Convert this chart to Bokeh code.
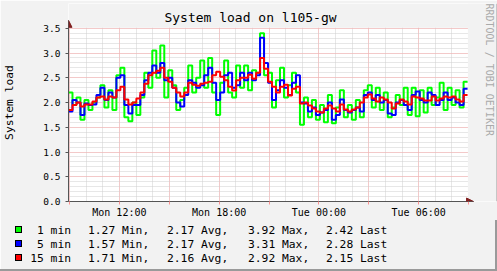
import math
from bokeh.plotting import figure
from bokeh.layouts import column
from bokeh.models import Range1d, FixedTicker, Label, BoxAnnotation, Arrow, NormalHead, Div
from bokeh.embed import file_html
from bokeh.resources import INLINE

# ---------------- data ----------------
title_text = "System load on l105-gw"
y_label_text = "System load"
watermark_text = "RRDTOOL / TOBI OETIKER"

start_hour = 8.94      # hours since Mon 00:00 at the left edge
step_hours = 0.24      # one sample per step

load_1min = [2.2, 1.95, 2.1, 1.65, 2.05, 1.85, 2.0, 2.1, 2.35, 1.9,
             2.25, 1.85, 2.55, 2.7, 1.7, 1.62, 2.0, 1.75, 2.1, 2.6,
             2.3, 3.05, 2.5, 3.15, 2.1, 2.65, 2.35, 1.85, 2.05, 2.3,
             2.75, 2.2, 2.5, 2.85, 2.3, 2.9, 2.2, 1.75, 2.4, 2.85,
             2.2, 2.1, 2.75, 2.3, 2.75, 2.25, 2.65, 2.6, 3.4, 2.55,
             2.6, 1.9, 2.45, 2.7, 2.1, 2.35, 2.6, 2.2, 1.55, 2.1,
             1.7, 2.05, 1.65, 1.95, 1.6, 2.15, 1.58, 1.9, 2.25, 1.7,
             1.95, 1.65, 2.05, 1.7, 2.25, 2.35, 1.9, 2.3, 1.85, 2.2,
             1.7, 1.9, 2.15, 1.95, 2.3, 1.75, 2.3, 1.72, 2.25, 1.8,
             2.3, 1.95, 2.1, 2.4, 1.85, 2.3, 1.95, 2.25, 1.9, 2.42]

load_5min = [1.82, 2.05, 2.0, 1.75, 1.98, 1.95, 1.96, 2.15, 2.3, 2.05,
             2.2, 2.1, 2.5, 2.55, 1.95, 1.78, 1.95, 1.95, 2.15, 2.45,
             2.6, 2.75, 2.6, 2.8, 2.45, 2.5, 2.3, 2.0, 1.92, 2.15,
             2.45, 2.4, 2.3, 2.35, 2.55, 2.7, 2.4, 2.05, 2.2, 2.55,
             2.6, 2.3, 2.35, 2.6, 2.45, 2.6, 2.45, 2.55, 3.31, 2.8,
             2.4, 2.05, 2.25, 2.45, 2.3, 2.15, 2.4, 2.55, 2.0, 1.98,
             1.82, 1.9, 1.75, 1.8, 1.85, 2.0, 1.65, 1.75, 2.06, 1.85,
             1.8, 1.85, 1.9, 1.82, 2.15, 2.2, 2.05, 2.15, 2.0, 2.05,
             1.78, 1.75, 2.0, 2.05, 1.95, 1.85, 2.15, 2.22, 2.05, 2.0,
             2.2, 2.15, 1.95, 2.05, 2.2, 2.05, 2.1, 2.0, 1.95, 2.28]

load_15min = [1.85, 1.95, 2.0, 1.92, 1.96, 1.96, 2.02, 2.1, 2.12, 2.06,
              2.12, 2.1, 2.25, 2.32, 2.06, 1.96, 2.0, 2.08, 2.2, 2.38,
              2.55, 2.6, 2.64, 2.7, 2.5, 2.42, 2.3, 2.2, 2.12, 2.2,
              2.4, 2.36, 2.34, 2.38, 2.4, 2.42, 2.55, 2.62, 2.52, 2.45,
              2.32, 2.24, 2.45, 2.5, 2.5, 2.56, 2.48, 2.6, 2.9, 2.68,
              2.42, 2.32, 2.2, 2.32, 2.36, 2.14, 2.28, 2.32, 1.98, 2.0,
              1.94, 1.88, 1.82, 1.8, 1.88, 1.94, 1.88, 1.82, 1.96, 1.86,
              1.82, 1.86, 1.9, 2.0, 2.1, 2.16, 2.08, 2.02, 2.1, 2.06,
              2.0, 1.88, 1.98, 2.06, 2.02, 1.96, 2.12, 2.1, 2.08, 2.04,
              2.04, 2.12, 2.04, 2.08, 2.12, 2.1, 2.12, 2.06, 2.02, 2.15]

series_names = ["1 min", "5 min", "15 min"]
series_colors = ["#00ff00", "#0000ff", "#ff0000"]
stat_min = [1.27, 1.57, 1.71]
stat_avg = [2.17, 2.17, 2.16]
stat_max = [3.92, 3.31, 2.92]
stat_last = [2.42, 2.28, 2.15]

tick_hours = [12, 18, 24, 30]
tick_labels = ["Mon 12:00", "Mon 18:00", "Tue 00:00", "Tue 06:00"]
y_ticks = [0.0, 0.5, 1.0, 1.5, 2.0, 2.5, 3.0, 3.5]
y_max = 3.5

# ---------------- layout constants ----------------
W = 497
H_MAIN, H_LEG = 220, 51
FL, FT, FB = 67, 3, 17            # frame borders of the main figure (right border 0)
PX_PER_HOUR = 400 / 24.0
PX_PER_UNIT = 50.0
MONO = "DejaVu Sans Mono"
BACK = "#f2f2f2"
SHADE = "#9a9a9a"
LIGHT = "#fdfdfd"

n = len(load_15min)
data_end = start_hour + n * step_hours
edges = [start_hour + i * step_hours for i in range(n + 1)]
frame_w = W - FL
frame_h = H_MAIN - FT - FB
x_hi = start_hour + frame_w / PX_PER_HOUR
y_hi = frame_h / PX_PER_UNIT
arrow_x = data_end + 6 / PX_PER_HOUR
arrow_y = y_max + 8 / PX_PER_UNIT

p = figure(width=W, height=H_MAIN, output_backend="svg", toolbar_location=None,
           x_range=Range1d(start_hour, x_hi), y_range=Range1d(0, y_hi),
           min_border_left=FL, min_border_right=0, min_border_top=FT,
           min_border_bottom=FB)
p.background_fill_color = "white"
p.border_fill_color = BACK
p.outline_line_color = None

# axes
axis_col = "#555555"
p.yaxis.ticker = FixedTicker(ticks=y_ticks, minor_ticks=[])
p.yaxis.major_label_overrides = {t: f"{t:.1f}" for t in y_ticks}
p.yaxis.bounds = (0, arrow_y)
p.yaxis.axis_line_color = axis_col
p.yaxis.major_tick_line_color = axis_col
p.yaxis.major_tick_out = 3
p.yaxis.major_tick_in = 0
p.yaxis.minor_tick_line_color = None
p.yaxis.major_label_text_font = MONO
p.yaxis.major_label_text_font_size = "9.5px"
p.yaxis.major_label_text_color = "black"
p.yaxis.major_label_standoff = 5
p.yaxis.axis_label = y_label_text
p.yaxis.axis_label_text_font = MONO
p.yaxis.axis_label_text_font_size = "11.3px"
p.yaxis.axis_label_text_font_style = "normal"
p.yaxis.axis_label_text_color = "black"
p.yaxis.axis_label_standoff = 24

grid_hours = list(range(9, 34, 3))
p.xaxis.ticker = FixedTicker(ticks=grid_hours, minor_ticks=[])
overrides = {h: "" for h in grid_hours}
for h, lab in zip(tick_hours, tick_labels):
    overrides[h] = lab
p.xaxis.major_label_overrides = overrides
p.xaxis.bounds = (start_hour, arrow_x)
p.xaxis.axis_line_color = axis_col
p.xaxis.major_tick_line_color = "#ff9090"
p.xaxis.major_tick_out = 3
p.xaxis.major_tick_in = 0
p.xaxis.minor_tick_line_color = None
p.xaxis.major_label_text_font = MONO
p.xaxis.major_label_text_font_size = "10px"
p.xaxis.major_label_text_color = "black"
p.xaxis.major_label_standoff = 2

# grids
p.xgrid.ticker = FixedTicker(ticks=grid_hours, minor_ticks=list(range(9, 34)))
p.ygrid.ticker = FixedTicker(ticks=y_ticks,
                             minor_ticks=[round(v * 0.1, 1) for v in range(36)])
for g in (p.xgrid, p.ygrid):
    g.grid_line_color = "#ffaaaa"
    g.grid_line_alpha = 1.0
    g.grid_line_dash = "1 1"
    g.minor_grid_line_color = "#cfcfcf"
    g.minor_grid_line_alpha = 1.0
    g.minor_grid_line_dash = "1 1"

# grey margins inside the frame (outside the data area), covering the grid
p.add_layout(BoxAnnotation(bottom=y_max + 0.01, fill_color=BACK, fill_alpha=1,
                           line_color=None, level="underlay"))
p.add_layout(BoxAnnotation(left=data_end + 0.02, fill_color=BACK, fill_alpha=1,
                           line_color=None, level="underlay"))

# data lines
for vals, col in zip([load_1min, load_5min, load_15min], series_colors):
    p.step(edges, list(vals) + [vals[-1]], mode="after", line_color=col, line_width=2)

# axis arrows
head_col = "#802020"
p.add_layout(Arrow(x_start=data_end, y_start=0, x_end=arrow_x, y_end=0,
                   line_color=axis_col, line_width=1,
                   end=NormalHead(size=7, fill_color=head_col, line_color=head_col)))
p.add_layout(Arrow(x_start=start_hour, y_start=y_max, x_end=start_hour, y_end=arrow_y,
                   line_color=axis_col, line_width=1,
                   end=NormalHead(size=7, fill_color=head_col, line_color=head_col)))

# screen units are measured from the frame's bottom-left corner
def sx(x):
    return x - FL

def sy(y):
    return (H_MAIN - FB) - y

# right shade of the outer border
p.add_layout(BoxAnnotation(left=sx(W - 2), right=sx(W), left_units="screen",
                           right_units="screen", fill_color=SHADE, fill_alpha=1,
                           line_color=None))

# title and watermark
p.add_layout(Label(x=sx(249), y=sy(19), x_units="screen", y_units="screen", text=title_text,
                   text_font=MONO, text_font_size="13px", text_align="center",
                   text_baseline="middle", text_color="black"))
p.add_layout(Label(x=sx(488), y=sy(5), x_units="screen", y_units="screen", text=watermark_text,
                   angle=-math.pi / 2, text_font=MONO, text_font_size="10px",
                   text_align="left", text_baseline="middle", text_color="#aaaaaa"))

# ---------------- legend strip (HTML text) ----------------
row_centers = [230.5 - H_MAIN, 244.5 - H_MAIN, 258.5 - H_MAIN]
parts = []
base = ("position:absolute;line-height:14px;white-space:pre;"
        f"font-family:'{MONO}',monospace;font-size:11.3px;color:black;margin:0;padding:0;")
for name, col, mn, av, mx, la, cy in zip(series_names, series_colors, stat_min,
                                         stat_avg, stat_max, stat_last, row_centers):
    parts.append(f'<div style="position:absolute;left:15px;top:{cy - 5}px;width:7px;'
                 f'height:7px;background:{col};border:1px solid black;"></div>')
    parts.append(f'<div style="{base}left:0px;width:71px;text-align:right;top:{cy - 7}px;">'
                 f'{name}</div>')
    for px, txt in [(88, f"{mn:.2f} Min,"), (167, f"{av:.2f} Avg,"),
                    (248, f"{mx:.2f} Max,"), (326, f"{la:.2f} Last")]:
        parts.append(f'<div style="{base}left:{px}px;top:{cy - 7}px;">{txt}</div>')
parts.append(f'<div style="position:absolute;left:0px;top:0px;width:1px;'
             f'height:{H_LEG}px;background:{LIGHT};"></div>')
parts.append(f'<div style="position:absolute;left:{W - 2}px;top:0px;width:2px;'
             f'height:{H_LEG}px;background:{SHADE};"></div>')
parts.append(f'<div style="position:absolute;left:0px;top:{H_LEG - 2}px;width:{W}px;'
             f'height:2px;background:{SHADE};"></div>')
legend_html = (f'<div style="position:relative;width:{W}px;height:{H_LEG}px;'
               f'background:{BACK};overflow:hidden;margin:0;padding:0;">'
               + "".join(parts) + "</div>")
legend_div = Div(text=legend_html, width=W, height=H_LEG, margin=0,
                 styles={"background-color": BACK, "padding": "0px", "margin": "0px"})

layout = column(p, legend_div, spacing=0)
open("out.html", "w").write(file_html(layout, INLINE))
